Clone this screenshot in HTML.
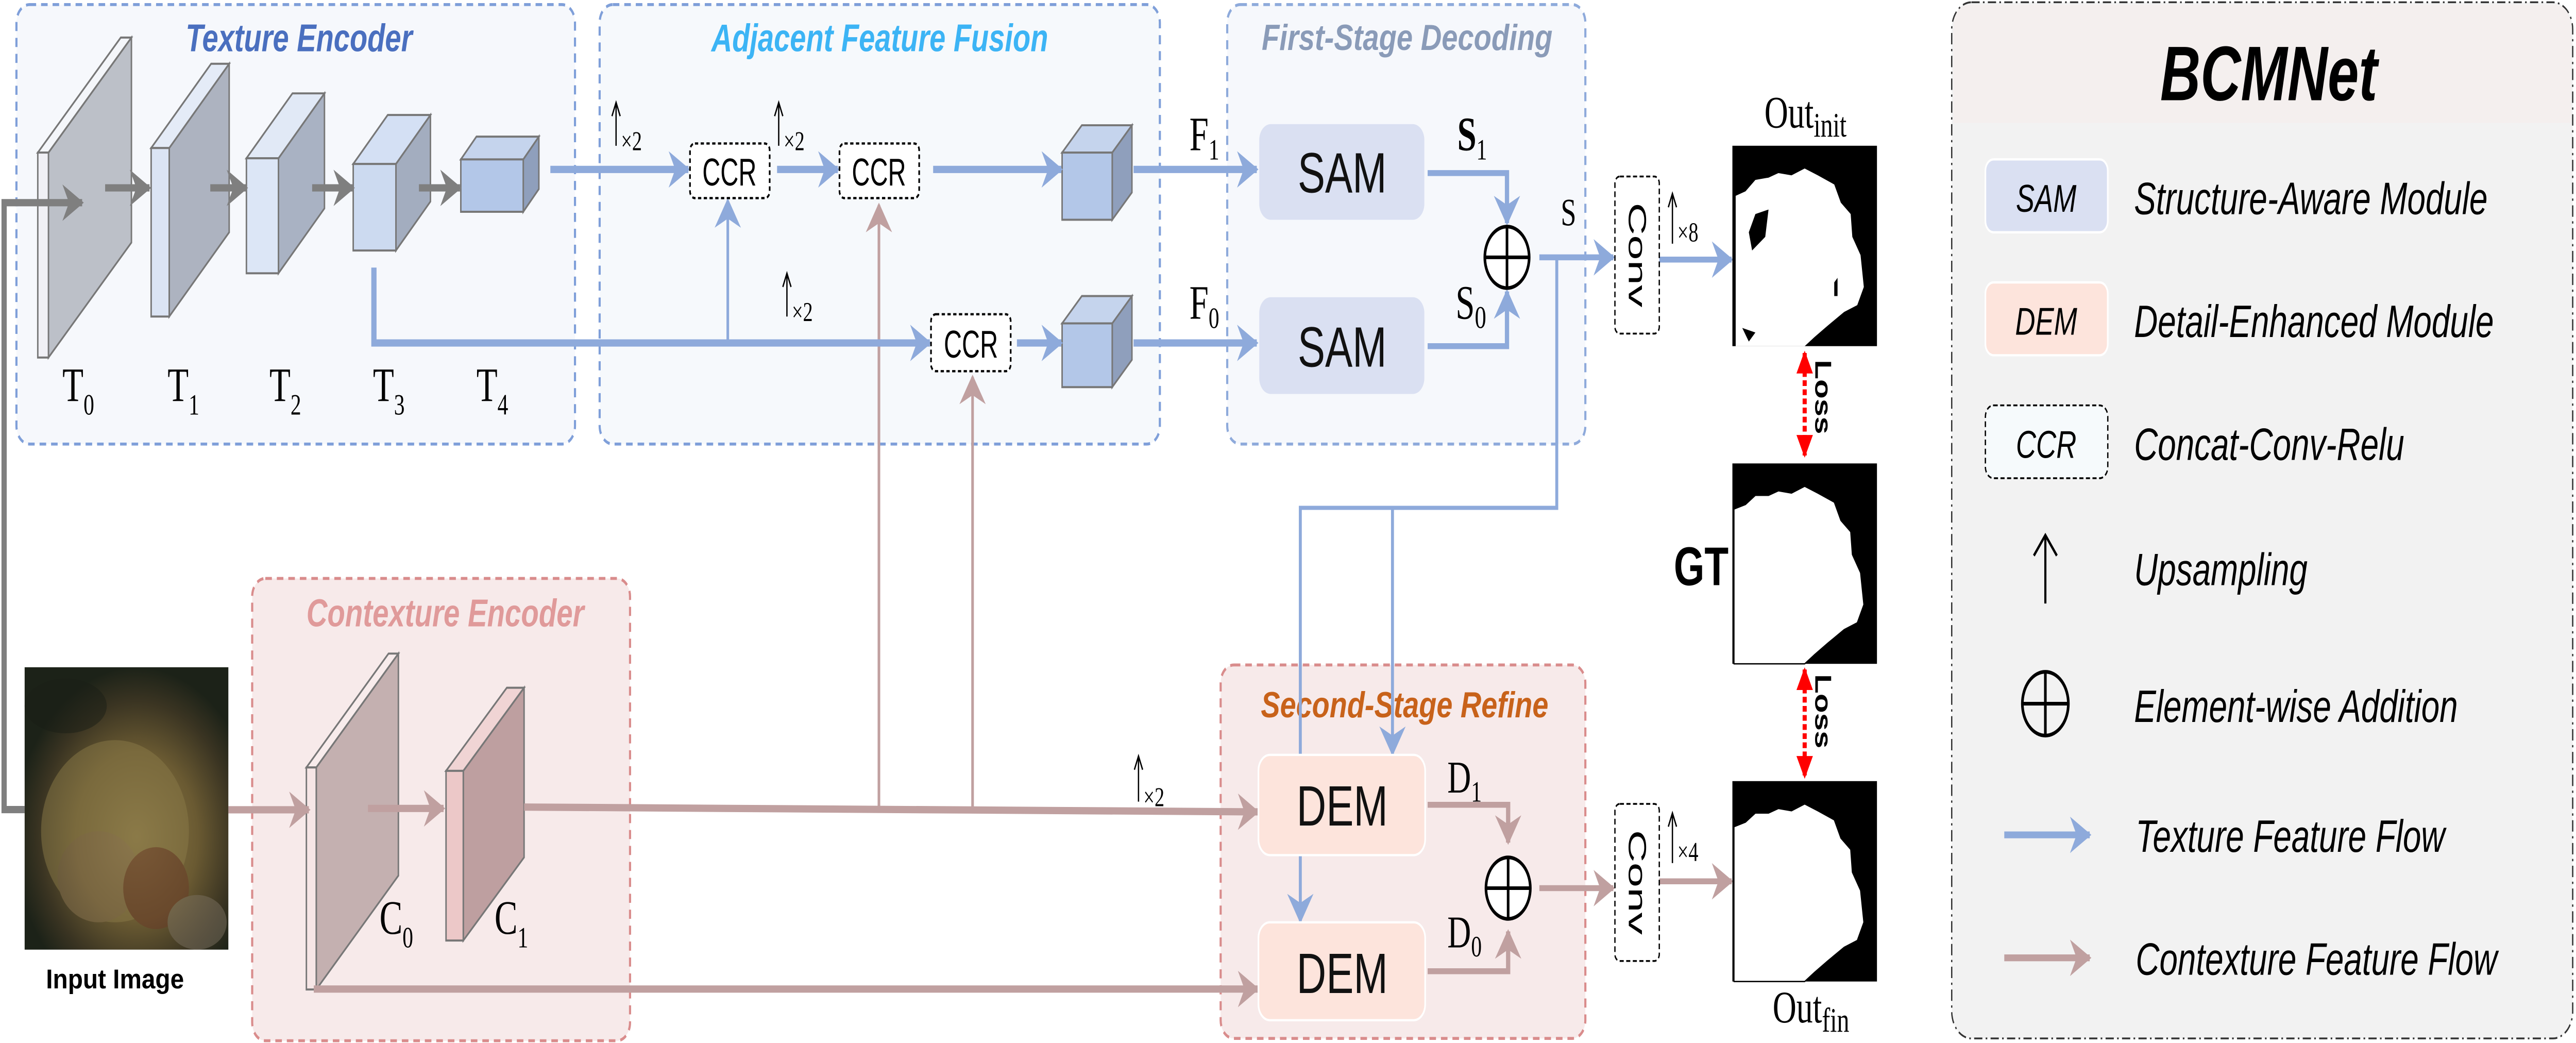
<!DOCTYPE html>
<html><head><meta charset="utf-8"><style>
html,body{margin:0;padding:0;background:#fff;overflow:hidden;width:100vw;height:100vh;}
svg{display:block;position:fixed;left:0;top:0;width:100vw;height:100vh;}
</style></head><body>
<svg viewBox="0 0 1568 458" preserveAspectRatio="none" xmlns="http://www.w3.org/2000/svg">
<defs>
<marker id="ab" markerUnits="userSpaceOnUse" markerWidth="14" markerHeight="16" refX="12" refY="8" orient="auto"><path d="M0,0 L13,8 L0,16 L4,8 z" fill="#8eaadb"/></marker>
<marker id="ap" markerUnits="userSpaceOnUse" markerWidth="14" markerHeight="16" refX="12" refY="8" orient="auto"><path d="M0,0 L13,8 L0,16 L4,8 z" fill="#c0a0a0"/></marker>
<marker id="ag" markerUnits="userSpaceOnUse" markerWidth="14" markerHeight="16" refX="12" refY="8" orient="auto"><path d="M0,0 L13,8 L0,16 L4,8 z" fill="#7f7f7f"/></marker>
<marker id="ar" markerUnits="userSpaceOnUse" markerWidth="10" markerHeight="10" refX="9" refY="5" orient="auto-start-reverse"><path d="M0,0 L10,5 L0,10 z" fill="#f00"/></marker>
<radialGradient id="img" cx="55%" cy="60%" r="60%"><stop offset="0" stop-color="#8c7a48"/><stop offset="0.5" stop-color="#6a5a32"/><stop offset="0.8" stop-color="#3a3422"/><stop offset="1" stop-color="#1c2218"/></radialGradient>
</defs>

<!-- group boxes -->
<rect x="10" y="2" width="340" height="193" rx="8" fill="#f6f8fc" stroke="#7f9fd9" stroke-width="1.3" stroke-dasharray="4,3"/>
<rect x="365" y="2" width="341" height="193" rx="8" fill="#f6f9fc" stroke="#7f9fd9" stroke-width="1.3" stroke-dasharray="4,3"/>
<rect x="747" y="2" width="218" height="193" rx="8" fill="#f6f8fc" stroke="#8eaadb" stroke-width="1.3" stroke-dasharray="4,3"/>
<rect x="153.5" y="254" width="230" height="203" rx="8" fill="#f7eaea" stroke="#d98c8c" stroke-width="1.3" stroke-dasharray="4,3"/>
<rect x="743" y="292" width="222" height="164" rx="8" fill="#f7eaea" stroke="#d98c8c" stroke-width="1.3" stroke-dasharray="4,3"/>

<g font-family="'Liberation Sans',sans-serif" font-weight="bold" font-style="italic">
<text x="113" y="22.5" font-size="17" fill="#4a6fbf" textLength="138" lengthAdjust="spacingAndGlyphs">Texture Encoder</text>
<text x="433" y="22.5" font-size="17" fill="#3cb4f5" textLength="205" lengthAdjust="spacingAndGlyphs">Adjacent Feature Fusion</text>
<text x="768" y="22" font-size="16" fill="#8a9bb8" textLength="177" lengthAdjust="spacingAndGlyphs">First-Stage Decoding</text>
<text x="186.5" y="275" font-size="17" fill="#e09a9a" textLength="169" lengthAdjust="spacingAndGlyphs">Contexture Encoder</text>
<text x="767.5" y="315" font-size="16" fill="#c8621a" textLength="175" lengthAdjust="spacingAndGlyphs">Second-Stage Refine</text>
</g>

<!-- texture slabs -->
<g stroke="#777" stroke-width="0.9">
<polygon points="29.5,67 80,16.5 80,106.5 29.5,157" fill="#bcc0c8"/>
<polygon points="23,67 29.5,67 80,16.5 73.5,16.5" fill="#f4f6fa"/>
<rect x="23" y="67" width="6.5" height="90" fill="#f0f0f5"/>
<polygon points="103,65 139.5,28 139.5,102 103,139" fill="#adb3c0"/>
<polygon points="92,65 103,65 139.5,28 128.5,28" fill="#e4ebf7"/>
<rect x="92" y="65" width="11" height="74" fill="#dbe4f4"/>
<polygon points="169.5,69.5 197.5,41 197.5,91.5 169.5,120" fill="#a9b2c3"/>
<polygon points="150,69.5 169.5,69.5 197.5,41 178,41" fill="#e1e9f6"/>
<rect x="150" y="69.5" width="19.5" height="50.5" fill="#dce6f6"/>
<polygon points="241,72 262,50.5 262,88.5 241,110" fill="#a3adbf"/>
<polygon points="215,72 241,72 262,50.5 236,50.5" fill="#d4e0f4"/>
<rect x="215" y="72" width="26" height="38" fill="#ccdaf0"/>
<polygon points="318.5,70 328,60 328,83 318.5,93" fill="#8f9fbc"/>
<polygon points="280.5,70 318.5,70 328,60 290,60" fill="#c5d4ed"/>
<rect x="280.5" y="70" width="38" height="23" fill="#b3c7e8"/>
<polygon points="677,67 689,55 689,84.5 677,96.5" fill="#8f9fbc"/>
<polygon points="646.5,67 677,67 689,55 658.5,55" fill="#c5d4ed"/>
<rect x="646.5" y="67" width="30.5" height="29.5" fill="#b3c7e8"/>
<polygon points="677,142 689,130 689,158 677,170" fill="#8f9fbc"/>
<polygon points="646.5,142 677,142 689,130 658.5,130" fill="#c5d4ed"/>
<rect x="646.5" y="142" width="30.5" height="28" fill="#b3c7e8"/>
<polygon points="192.5,337 242.5,287 242.5,384.5 192.5,434.5" fill="#c4b0b0"/>
<polygon points="186.5,337 192.5,337 242.5,287 236.5,287" fill="#f8ecec"/>
<rect x="186.5" y="337" width="6" height="97.5" fill="#f6e6e6"/>
<polygon points="282,338.5 319,302 319,376.5 282,413" fill="#be9fa0"/>
<polygon points="271.5,338.5 282,338.5 319,302 308.5,302" fill="#f0d4d4"/>
<rect x="271.5" y="338.5" width="10.5" height="74.5" fill="#ecc8c8"/>
</g>

<!-- labels -->
<g font-family="'Liberation Serif',serif" fill="#000">
<text x="38" y="176" font-size="21">T<tspan font-size="13" dy="6">0</tspan></text>
<text x="102" y="176" font-size="21">T<tspan font-size="13" dy="6">1</tspan></text>
<text x="164" y="176" font-size="21">T<tspan font-size="13" dy="6">2</tspan></text>
<text x="227" y="176" font-size="21">T<tspan font-size="13" dy="6">3</tspan></text>
<text x="290" y="176" font-size="21">T<tspan font-size="13" dy="6">4</tspan></text>
<text x="231" y="410" font-size="21">C<tspan font-size="13" dy="6">0</tspan></text>
<text x="301" y="410" font-size="21">C<tspan font-size="13" dy="6">1</tspan></text>
<text x="724" y="66" font-size="21">F<tspan font-size="13" dy="4">1</tspan></text>
<text x="724" y="140" font-size="21">F<tspan font-size="13" dy="4">0</tspan></text>
<text x="887" y="66" font-size="21" font-weight="bold">S<tspan font-size="13" dy="4" font-weight="normal">1</tspan></text>
<text x="886" y="140" font-size="21">S<tspan font-size="14" dy="4">0</tspan></text>
<text x="950" y="99" font-size="17">S</text>
<text x="881" y="348" font-size="20">D<tspan font-size="13" dy="4">1</tspan></text>
<text x="881" y="416" font-size="20">D<tspan font-size="13" dy="4">0</tspan></text>
<text x="1074" y="56" font-size="20">Out<tspan font-size="15" dy="4">init</tspan></text>
<text x="1079" y="449" font-size="20">Out<tspan font-size="15" dy="4">fin</tspan></text>
</g>

<!-- gray flows -->
<g stroke="#7f7f7f" stroke-width="3.2" fill="none">
<polyline points="15,355.5 2.5,355.5 2.5,89 50,89" marker-end="url(#ag)"/>
<line x1="64" y1="82.5" x2="91" y2="82.5" marker-end="url(#ag)"/>
<line x1="128" y1="82.5" x2="150" y2="82.5" marker-end="url(#ag)"/>
<line x1="190" y1="82.5" x2="215" y2="82.5" marker-end="url(#ag)"/>
<line x1="255" y1="82.5" x2="280" y2="82.5" marker-end="url(#ag)"/>
</g>

<!-- pink flows -->
<g stroke="#c0a0a0" fill="none">
<line x1="535" y1="356" x2="535" y2="90" stroke-width="1.6" marker-end="url(#ap)"/>
<line x1="592" y1="356" x2="592" y2="165.5" stroke-width="1.6" marker-end="url(#ap)"/>
<line x1="139" y1="355.6" x2="188" y2="355.6" stroke-width="3.2" marker-end="url(#ap)"/>
<line x1="224" y1="355" x2="270" y2="355" stroke-width="3.2" marker-end="url(#ap)"/>
<line x1="319" y1="354.4" x2="765.5" y2="356.5" stroke-width="3.2" marker-end="url(#ap)"/>
<line x1="191" y1="434.3" x2="765.5" y2="434.3" stroke-width="3.2" marker-end="url(#ap)"/>
<polyline points="869,353.4 918,353.4 918,370" stroke-width="2.6" marker-end="url(#ap)"/>
<polyline points="869,426.5 918,426.5 918,409" stroke-width="2.6" marker-end="url(#ap)"/>
<line x1="937" y1="390" x2="982" y2="390" stroke-width="2.6" marker-end="url(#ap)"/>
<line x1="1010" y1="387" x2="1054" y2="387" stroke-width="2.6" marker-end="url(#ap)"/>
</g>

<!-- blue flows -->
<g stroke="#8eaadb" fill="none">
<line x1="335" y1="74.4" x2="419" y2="74.4" stroke-width="3.2" marker-end="url(#ab)"/>
<line x1="473" y1="74.4" x2="510" y2="74.4" stroke-width="3.2" marker-end="url(#ab)"/>
<line x1="568" y1="74.4" x2="646" y2="74.4" stroke-width="3.2" marker-end="url(#ab)"/>
<line x1="690" y1="74.4" x2="765" y2="74.4" stroke-width="3.2" marker-end="url(#ab)"/>
<polyline points="227.6,117.5 227.6,150.6 566,150.6" stroke-width="3.2" marker-end="url(#ab)"/>
<line x1="443" y1="150" x2="443" y2="88" stroke-width="1.6" marker-end="url(#ab)"/>
<line x1="619" y1="150.6" x2="646" y2="150.6" stroke-width="3.2" marker-end="url(#ab)"/>
<line x1="690" y1="150.6" x2="765" y2="150.6" stroke-width="3.2" marker-end="url(#ab)"/>
<polyline points="869,76 917.3,76 917.3,98" stroke-width="2.6" marker-end="url(#ab)"/>
<polyline points="869,152 917.3,152 917.3,128" stroke-width="2.6" marker-end="url(#ab)"/>
<line x1="937" y1="113" x2="982" y2="113" stroke-width="2.6" marker-end="url(#ab)"/>
<line x1="1010" y1="114" x2="1054" y2="114" stroke-width="2.6" marker-end="url(#ab)"/>
<polyline points="947.6,113 947.6,223 791.5,223 791.5,332" stroke-width="1.8"/>
<line x1="847.6" y1="223" x2="847.6" y2="331" stroke-width="1.8" marker-end="url(#ab)"/>
<line x1="791.5" y1="375.5" x2="791.5" y2="404.5" stroke-width="1.8" marker-end="url(#ab)"/>
</g>

<!-- CCR boxes -->
<g font-family="'Liberation Sans',sans-serif" font-size="17" text-anchor="middle">
<rect x="420" y="63" width="48.5" height="24" rx="3" fill="#fff" stroke="#000" stroke-width="1" stroke-dasharray="2,1.5"/>
<text x="444" y="81.5" textLength="33" lengthAdjust="spacingAndGlyphs">CCR</text>
<rect x="511" y="63" width="48.5" height="24" rx="3" fill="#fff" stroke="#000" stroke-width="1" stroke-dasharray="2,1.5"/>
<text x="535" y="81.5" textLength="33" lengthAdjust="spacingAndGlyphs">CCR</text>
<rect x="566.7" y="138" width="48.5" height="25" rx="3" fill="#fff" stroke="#000" stroke-width="1" stroke-dasharray="2,1.5"/>
<text x="591" y="157" textLength="33" lengthAdjust="spacingAndGlyphs">CCR</text>
</g>

<!-- upsample labels -->
<g stroke="#000" stroke-width="0.8" fill="none">
<path d="M375,64 V45 M372.5,51 L375,45 L377.5,51"/>
<path d="M474,64 V45 M471.5,51 L474,45 L476.5,51"/>
<path d="M479,139 V120 M476.5,126 L479,120 L481.5,126"/>
<path d="M693,352 V332 M690.5,338 L693,332 L695.5,338"/>
<path d="M1018,107 V85 M1015.5,91 L1018,85 L1020.5,91"/>
<path d="M1018,379 V357 M1015.5,363 L1018,357 L1020.5,363"/>
</g>
<g font-family="'Liberation Serif',serif" font-size="12" fill="#000">
<text x="378" y="66">×2</text>
<text x="477" y="66">×2</text>
<text x="482" y="141">×2</text>
<text x="696" y="354">×2</text>
<text x="1021" y="106">×8</text>
<text x="1021" y="378">×4</text>
</g>

<!-- SAM / DEM -->
<g font-family="'Liberation Sans',sans-serif" font-size="25" text-anchor="middle" fill="#111">
<rect x="766.5" y="54.5" width="100.5" height="42" rx="7" fill="#dae0f2"/>
<text x="817" y="84.5">SAM</text>
<rect x="766.5" y="130.5" width="100.5" height="42.5" rx="7" fill="#dae0f2"/>
<text x="817" y="161">SAM</text>
<rect x="766" y="331.5" width="101.5" height="44" rx="7" fill="#fde4dc" stroke="#fff" stroke-width="1"/>
<text x="817" y="362.5">DEM</text>
<rect x="766" y="405" width="101.5" height="43" rx="7" fill="#fde4dc" stroke="#fff" stroke-width="1"/>
<text x="817" y="436">DEM</text>
</g>

<!-- plus circles -->
<g stroke="#000" stroke-width="1.6" fill="#fff">
<circle cx="917.3" cy="113" r="13.5"/><line x1="903.8" y1="113" x2="930.8" y2="113"/><line x1="917.3" y1="99.5" x2="917.3" y2="126.5"/>
<circle cx="918" cy="390" r="13.5"/><line x1="904.5" y1="390" x2="931.5" y2="390"/><line x1="918" y1="376.5" x2="918" y2="403.5"/>
</g>

<!-- Conv boxes -->
<g font-family="'Liberation Sans',sans-serif" font-size="15" text-anchor="middle">
<rect x="983" y="77.5" width="27" height="69" rx="3" fill="#fff" stroke="#000" stroke-width="0.8" stroke-dasharray="2.5,1.5"/>
<text transform="translate(991.5,112) rotate(90)" textLength="46" lengthAdjust="spacingAndGlyphs">Conv</text>
<rect x="983" y="353" width="27" height="69" rx="3" fill="#fff" stroke="#000" stroke-width="0.8" stroke-dasharray="2.5,1.5"/>
<text transform="translate(991.5,387.5) rotate(90)" textLength="46" lengthAdjust="spacingAndGlyphs">Conv</text>
</g>

<!-- input image -->
<rect x="15" y="293" width="124" height="124" fill="url(#img)"/>
<g opacity="0.5">
<ellipse cx="70" cy="365" rx="45" ry="40" fill="#8a7a48"/>
<ellipse cx="60" cy="385" rx="25" ry="20" fill="#8a7450"/>
<ellipse cx="95" cy="390" rx="20" ry="18" fill="#6a3a28"/>
<ellipse cx="120" cy="405" rx="18" ry="12" fill="#7a7060"/>
<ellipse cx="40" cy="310" rx="25" ry="12" fill="#1a1e16"/>
</g>
<text x="70" y="434" font-family="'Liberation Sans',sans-serif" font-weight="bold" font-size="12" text-anchor="middle" textLength="84" lengthAdjust="spacingAndGlyphs">Input Image</text>

<!-- masks -->
<g>
<rect x="1054.5" y="64" width="88" height="88" fill="#000"/>
<path transform="translate(1054.5,64)" d="M2,22 L8,20 L14,15 L22,14 L28,12 L36,13 L44,10 L52,13 L62,17 L66,25 L72,30 L73,40 L78,48 L80,62 L76,70 L68,73 L58,79 L50,84 L44,88 L2,88 Z" fill="#fff"/>
<path transform="translate(1054.5,64)" d="M14,30 L22,28 L20,40 L12,46 L10,38 Z M62,60 L64,58 L64,66 L62,66 Z M6,80 L14,82 L10,86 Z" fill="#000"/>
<rect x="1054.5" y="203.5" width="88" height="88" fill="#000"/>
<path transform="translate(1054.5,203.5)" d="M1,20 L8,18 L14,14 L22,14 L28,12 L36,13 L44,10 L52,13 L62,17 L66,25 L72,30 L73,40 L78,48 L80,62 L76,70 L68,73 L58,79 L50,84 L44,88 L1,88 Z" fill="#fff" stroke="#000" stroke-width="0.6"/>
<rect x="1054.5" y="343" width="88" height="88" fill="#000"/>
<path transform="translate(1054.5,343)" d="M1,20 L8,18 L14,14 L22,14 L28,12 L36,13 L44,10 L52,13 L62,17 L66,25 L72,30 L73,40 L78,48 L80,62 L76,70 L68,73 L58,79 L50,84 L44,88 L1,88 Z" fill="#fff" stroke="#000" stroke-width="0.6"/>
</g>
<text x="1035.5" y="257" font-family="'Liberation Sans',sans-serif" font-weight="bold" font-size="24" text-anchor="middle">GT</text>
<g stroke="#f00" stroke-width="2.5" stroke-dasharray="2.5,1.5">
<line x1="1098.5" y1="155" x2="1098.5" y2="200" marker-start="url(#ar)" marker-end="url(#ar)"/>
<line x1="1098.5" y1="294" x2="1098.5" y2="341" marker-start="url(#ar)" marker-end="url(#ar)"/>
</g>
<g font-family="'Liberation Sans',sans-serif" font-weight="bold" font-size="14">
<text transform="translate(1105,158) rotate(90)">Loss</text>
<text transform="translate(1105,296) rotate(90)">Loss</text>
</g>

<!-- legend -->
<rect x="1188" y="1" width="378" height="455" rx="12" fill="#f2f2f2" stroke="#333" stroke-width="0.8" stroke-dasharray="5,2,1,2"/>
<path d="M1189,54 L1189,13 Q1189,2 1200,2 L1554,2 Q1565,2 1565,13 L1565,54 Z" fill="#f4efee"/>
<text x="1381" y="44" font-family="'Liberation Sans',sans-serif" font-weight="bold" font-style="italic" font-size="34" text-anchor="middle">BCMNet</text>
<g font-family="'Liberation Sans',sans-serif" font-style="italic">
<rect x="1208.5" y="70" width="74.5" height="32" rx="5" fill="#dae0f2" stroke="#fff"/>
<text x="1245.5" y="93" font-size="17" text-anchor="middle">SAM</text>
<rect x="1208.5" y="124" width="74.5" height="32" rx="5" fill="#fde4dc" stroke="#fff"/>
<text x="1245.5" y="147" font-size="17" text-anchor="middle">DEM</text>
<rect x="1208.5" y="178" width="74.5" height="32" rx="5" fill="#f6fafc" stroke="#000" stroke-width="0.8" stroke-dasharray="2.5,1.5"/>
<text x="1245.5" y="201" font-size="17" text-anchor="middle">CCR</text>
<g font-size="20">
<text x="1299" y="94">Structure-Aware Module</text>
<text x="1299" y="148">Detail-Enhanced Module</text>
<text x="1299" y="202">Concat-Conv-Relu</text>
<text x="1299" y="257">Upsampling</text>
<text x="1299" y="317">Element-wise Addition</text>
<text x="1300" y="374">Texture Feature Flow</text>
<text x="1300" y="428">Contexture Feature Flow</text>
</g>
</g>
<line x1="1245" y1="265" x2="1245" y2="236" stroke="#000" stroke-width="1.3"/>
<polyline points="1238,244 1245,235 1252,244" fill="none" stroke="#000" stroke-width="1.3"/>
<g stroke="#000" stroke-width="1.6" fill="none">
<circle cx="1245" cy="309" r="14"/><line x1="1231" y1="309" x2="1259" y2="309"/><line x1="1245" y1="295" x2="1245" y2="323"/>
</g>
<line x1="1220" y1="366.6" x2="1272" y2="366.6" stroke="#8eaadb" stroke-width="3" marker-end="url(#ab)"/>
<line x1="1220" y1="420.6" x2="1272" y2="420.6" stroke="#c0a0a0" stroke-width="3" marker-end="url(#ap)"/>
</svg>
</body></html>
